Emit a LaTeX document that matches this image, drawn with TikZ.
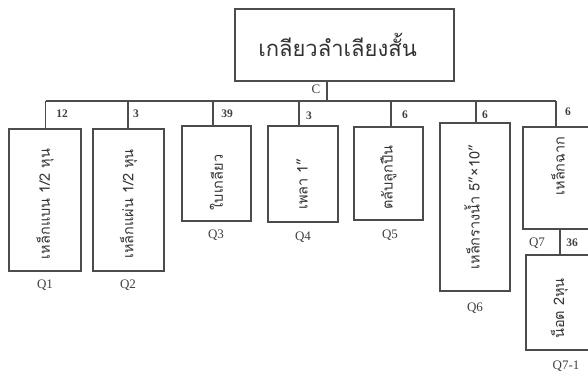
\documentclass[tikz,border=0pt]{standalone}
\usepackage{fontspec}
\setmainfont{Liberation Serif}
\newfontfamily\thaifont[Script=Thai]{Loma}
\begin{document}
\begin{tikzpicture}[x=1pt,y=-1pt,
  line width=1.4pt, draw=black!70,
  partbox/.style={draw=black!70, line width=1.4pt, inner sep=0pt, text=black!80,
    font=\thaifont\fontsize{14.5}{15}\selectfont},
  qty/.style={font=\fontsize{11.5}{12}\selectfont\bfseries, text=black!75, inner sep=0pt},
  qlabel/.style={font=\fontsize{13}{14}\selectfont, text=black!75, inner sep=0pt},
  link/.style={draw=black!70, line width=1.4pt}]
\useasboundingbox (0,0) rectangle (588,381);
\clip (0,0) rectangle (588,381);

% assembly at the top
\node[partbox, minimum width=219pt, minimum height=72pt,
      font=\thaifont\fontsize{22}{23}\selectfont] (top) at (344.5,45) {เกลียวลำเลียงสั้น\hspace*{14pt}};
\node[qlabel] (c) at (316,89) {C};

% sub-parts, text set upright along the box
\node[partbox, rotate=90, minimum width=142pt, minimum height=72pt] (q1) at (45,200) {\raisebox{-3pt}{เหล็กแบน 1/2 หุน}\hspace*{8pt}};
\node[partbox, rotate=90, minimum width=142pt, minimum height=71pt] (q2) at (128.5,200) {\raisebox{-2pt}{เหล็กแผ่น 1/2 หุน}\hspace*{8pt}};
\node[partbox, rotate=90, minimum width=95pt, minimum height=69pt] (q3) at (216.5,173.5) {ใบเกลียว\hspace*{18pt}};
\node[partbox, rotate=90, minimum width=96pt, minimum height=70pt] (q4) at (303,174) {\raisebox{2pt}{เพลา 1”}\hspace*{20pt}};
\node[partbox, rotate=90, minimum width=93pt, minimum height=69pt] (q5) at (388.5,173.5) {\raisebox{2pt}{ตลับลูกปืน}\hspace*{8pt}};
\node[partbox, rotate=90, minimum width=168pt, minimum height=70pt] (q6) at (475,207) {\raisebox{6pt}{เหล็กรางน้ำ 5”×10”}};
\node[partbox, rotate=90, minimum width=102pt, minimum height=70pt] (q7) at (558,178) {\hspace*{24pt}\raisebox{-3pt}{เหล็กฉาก}};
\node[partbox, rotate=90, minimum width=95pt, minimum height=70pt] (q71) at (561,302.5) {\raisebox{7pt}{น็อต 2หุน}\hspace*{12pt}};

% branching lines
\coordinate (stem) at (327,81);
\coordinate (d1) at (45.5,101);
\coordinate (d2) at (128,101);
\coordinate (d3) at (213,101);
\coordinate (d4) at (299,101);
\coordinate (d5) at (391,101);
\coordinate (d6) at (476,101);
\coordinate (d7) at (556,101);
\draw[link] (stem) -- (stem |- d1);
\draw[link] (d1) -- (d7);
\foreach \d/\q in {d1/q1,d2/q2,d3/q3,d4/q4,d5/q5,d6/q6,d7/q7}
  \draw[link] (\d) -- (\d |- \q.east);
\coordinate (s7) at (560,229);
\draw[link] (s7) -- (s7 |- q71.east);

% quantities
\node[qty] (n1) at (62,114) {12};
\node[qty] (n2) at (136,114) {3};
\node[qty] (n3) at (227,114) {39};
\node[qty] (n4) at (309,116) {3};
\node[qty] (n5) at (405,115) {6};
\node[qty] (n6) at (485,115) {6};
\node[qty] (n7) at (568,112) {6};
\node[qty] (n71) at (572,243) {36};

% part codes
\node[qlabel] (l1) at (45,285) {Q1};
\node[qlabel] (l2) at (128,285) {Q2};
\node[qlabel] (l3) at (216,235) {Q3};
\node[qlabel] (l4) at (303,237) {Q4};
\node[qlabel] (l5) at (390,235) {Q5};
\node[qlabel] (l6) at (475,308) {Q6};
\node[qlabel] (l7) at (537,243) {Q7};
\node[qlabel] (l71) at (566,366) {Q7-1};
\end{tikzpicture}
\end{document}
